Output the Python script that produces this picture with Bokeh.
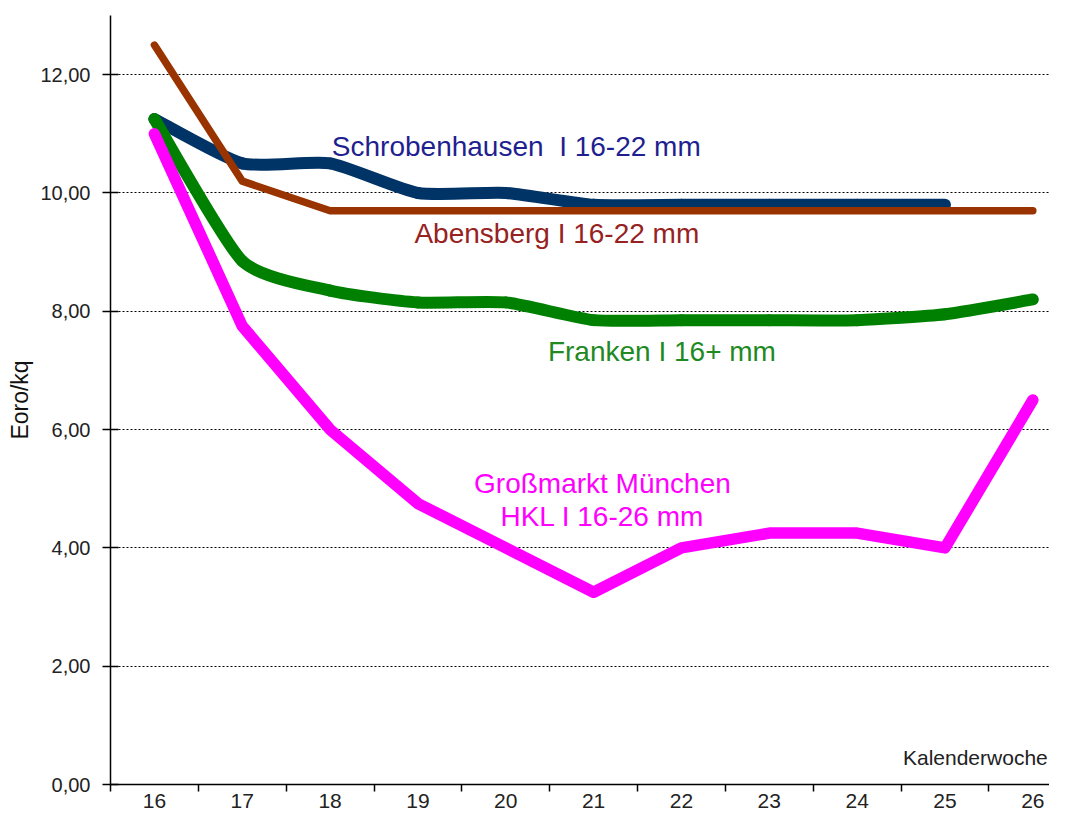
from bokeh.plotting import figure
from bokeh.models import FixedTicker, Range1d
from bokeh.core.properties import value
from bokeh.embed import file_html
from bokeh.resources import INLINE

# ---- data ----
weeks = [16, 17, 18, 19, 20, 21, 22, 23, 24, 25, 26]
schrobenhausen = [11.25, 10.5, 10.5, 10.0, 10.0, 9.8, 9.8, 9.8, 9.8, 9.8]
abensberg = [12.5, 10.2, 9.7, 9.7, 9.7, 9.7, 9.7, 9.7, 9.7, 9.7, 9.7]
franken = [11.25, 8.85, 8.35, 8.15, 8.15, 7.85, 7.85, 7.85, 7.85, 7.95, 8.2]
muenchen = [11.0, 7.75, 6.0, 4.75, 4.0, 3.25, 4.0, 4.25, 4.25, 4.0, 6.5]
y_ticks = [0, 2, 4, 6, 8, 10, 12]
y_tick_labels = ["0,00", "2,00", "4,00", "6,00", "8,00", "10,00", "12,00"]

FONT = "Liberation Sans"


def smooth_segments(xs, ys, t=0.1):
    n = len(xs)
    out = dict(x0=[], y0=[], x1=[], y1=[], cx0=[], cy0=[], cx1=[], cy1=[])
    for i in range(n - 1):
        xm, ym = (xs[i - 1], ys[i - 1]) if i > 0 else (xs[i], ys[i])
        xp, yp = (xs[i + 2], ys[i + 2]) if i + 2 < n else (xs[i + 1], ys[i + 1])
        out["x0"].append(xs[i]); out["y0"].append(ys[i])
        out["x1"].append(xs[i + 1]); out["y1"].append(ys[i + 1])
        out["cx0"].append(xs[i] + (xs[i + 1] - xm) * t)
        out["cy0"].append(ys[i] + (ys[i + 1] - ym) * t)
        out["cx1"].append(xs[i + 1] - (xp - xs[i]) * t)
        out["cy1"].append(ys[i + 1] - (yp - ys[i]) * t)
    return out


p = figure(width=1049, height=810, output_backend="svg", toolbar_location=None,
           x_range=Range1d(15.5, 26.19), y_range=Range1d(0, 13),
           min_border_left=110, min_border_right=0, min_border_top=15)
p.outline_line_color = None
p.background_fill_color = "white"

# grid
p.xgrid.visible = False
p.ygrid.ticker = FixedTicker(ticks=y_ticks[1:])
p.ygrid.grid_line_color = "black"
p.ygrid.grid_line_dash = "2 2"
p.ygrid.grid_line_width = 1

# x axis
xa = p.xaxis[0]
xa.ticker = FixedTicker(ticks=weeks, minor_ticks=[w - 0.5 for w in weeks])
xa.major_tick_line_color = None
xa.minor_tick_line_color = "black"
xa.minor_tick_line_width = 1.5
xa.minor_tick_in = 0
xa.minor_tick_out = 7
xa.axis_line_color = "black"
xa.axis_line_width = 1.5
xa.major_label_text_font = FONT
xa.major_label_text_font_size = "21px"
xa.major_label_text_color = "#222222"
xa.major_label_standoff = 2

# y axis
ya = p.yaxis[0]
ya.ticker = FixedTicker(ticks=y_ticks, minor_ticks=[])
ya.major_label_overrides = {t: l for t, l in zip(y_ticks, y_tick_labels)}
ya.major_tick_line_color = "black"
ya.major_tick_line_width = 1.5
ya.major_tick_in = 8
ya.major_tick_out = 8
ya.axis_line_color = "black"
ya.axis_line_width = 1.5
ya.major_label_text_font = FONT
ya.major_label_text_font_size = "20px"
ya.major_label_text_color = "#222222"
ya.major_label_standoff = 12
ya.axis_label = "Eoro/kq"
ya.axis_label_text_font = FONT
ya.axis_label_text_font_size = "23px"
ya.axis_label_text_font_style = "normal"
ya.axis_label_text_color = "#111111"
ya.axis_label_standoff = 4

# series
s = smooth_segments(weeks[:len(schrobenhausen)], schrobenhausen)
p.bezier(x0="x0", y0="y0", x1="x1", y1="y1", cx0="cx0", cy0="cy0", cx1="cx1", cy1="cy1",
         source=s, line_color="#003366", line_width=12, line_cap="round")
p.line(weeks, abensberg, line_color="#993300", line_width=7.5, line_join="round", line_cap="round")
f = smooth_segments(weeks, franken)
p.bezier(x0="x0", y0="y0", x1="x1", y1="y1", cx0="cx0", cy0="cy0", cx1="cx1", cy1="cy1",
         source=f, line_color="#008000", line_width=12, line_cap="round")
p.line(weeks, muenchen, line_color="#FF00FF", line_width=11.5, line_join="round", line_cap="round")

# labels
def label(x, y, txt, color, size="28px", align="left"):
    p.text(x=[x], y=[y], text=[txt], text_color=color, text_font=value(FONT),
           text_font_size=size, text_align=align, text_baseline="middle")

label(18.02, 10.79, "Schrobenhausen\u00a0 I 16-22 mm", "#1f1f8f")
label(18.96, 9.31, "Abensberg I 16-22 mm", "#962222")
label(20.48, 7.32, "Franken I 16+ mm", "#1f8a1f")
label(21.10, 5.08, "Großmarkt München", "#FF00FF", align="center")
label(21.10, 4.53, "HKL I 16-26 mm", "#FF00FF", align="center")
label(26.17, 0.45, "Kalenderwoche", "#222222", size="21px", align="right")

open("out.html", "w").write(file_html(p, INLINE))
